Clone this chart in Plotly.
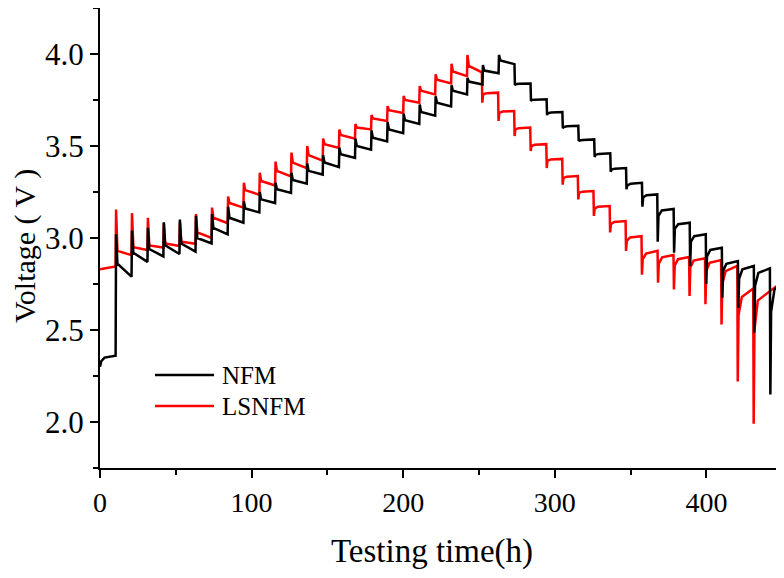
import plotly.graph_objects as go

# ---------------- data ----------------
# charge pulses (h) shared by both samples
charge_t = [10.3, 20.8, 31.3, 41.8, 52.4, 63.0, 73.6, 84.2, 94.6, 105.1, 115.5, 126.0,
            136.4, 146.9, 157.6, 168.2, 178.8, 189.4, 200.0, 210.6, 221.1, 231.6,
            242.1, 252.3, 262.9]

# NFM (black)
nfm_pre_t = [0.0, 0.8, 3.0, 10.3]
nfm_pre_v = [2.30, 2.33, 2.35, 2.36]
nfm_peak = [3.02, 3.04, 3.055, 3.085, 3.10, 3.12, 3.13, 3.17, 3.20, 3.25, 3.30, 3.355,
            3.405, 3.45, 3.49, 3.54, 3.585, 3.63, 3.675, 3.725, 3.77, 3.83, 3.87, 3.94, 3.995]
nfm_knee = [2.86, 2.92, 2.94, 2.96, 2.97, 3.00, 3.055, 3.11, 3.16, 3.21, 3.265, 3.315,
            3.365, 3.41, 3.455, 3.50, 3.545, 3.59, 3.64, 3.685, 3.735, 3.80, 3.85, 3.91, 3.965]
nfm_end = [2.79, 2.87, 2.90, 2.913, 2.926, 2.97, 3.02, 3.083, 3.139, 3.19, 3.245, 3.295,
           3.345, 3.385, 3.435, 3.48, 3.525, 3.57, 3.62, 3.665, 3.715, 3.78, 3.835, 3.895, 3.945]
nfm_dis_t = [273.4, 284.0, 294.6, 305.0, 315.5, 326.0, 336.6, 347.0, 357.5, 367.6, 378.4,
             389.0, 399.6, 410.2, 420.8, 431.3, 441.9, 450.8]
nfm_dis_trough = [3.83, 3.745, 3.668, 3.596, 3.527, 3.44, 3.36, 3.265, 3.17, 2.98, 2.92,
                  2.848, 2.75, 2.675, 2.62, 2.485, 2.15, 1.98]
nfm_dis_rec1 = [3.836, 3.75, 3.678, 3.603, 3.53, 3.452, 3.372, 3.285, 3.22, 3.12, 3.05,
                2.98, 2.90, 2.82, 2.78, 2.74, 2.60, 2.30]
nfm_dis_rec2 = [3.838, 3.752, 3.682, 3.607, 3.533, 3.457, 3.377, 3.295, 3.232, 3.15, 3.075,
                3.01, 2.935, 2.86, 2.83, 2.81, 2.72, 2.50]
nfm_dis_level = [3.84, 3.754, 3.685, 3.61, 3.536, 3.46, 3.38, 3.30, 3.237, 3.158, 3.083,
                 3.02, 2.947, 2.875, 2.848, 2.835, 2.766, 2.60]
nfm_t_end = 452.0

# LSNFM (red)
ls_pre_t = [0.0, 10.3]
ls_pre_v = [2.83, 2.845]
ls_peak = [3.155, 3.135, 3.11, 3.08, 3.085, 3.13, 3.165, 3.225, 3.30, 3.355, 3.415, 3.464,
           3.50, 3.54, 3.59, 3.62, 3.668, 3.717, 3.772, 3.826, 3.89, 3.947, 3.995]
ls_knee = [2.93, 2.95, 2.96, 2.97, 2.98, 3.03, 3.11, 3.19, 3.26, 3.31, 3.365, 3.41,
           3.45, 3.51, 3.56, 3.60, 3.65, 3.695, 3.75, 3.80, 3.86, 3.905, 3.935]
ls_end = [2.907, 2.935, 2.948, 2.957, 2.969, 3.00, 3.08, 3.165, 3.235, 3.285, 3.335, 3.38,
          3.42, 3.49, 3.54, 3.59, 3.636, 3.68, 3.735, 3.78, 3.84, 3.88, 3.90]
ls_dis_t = [251.9, 262.6, 273.2, 283.8, 294.4, 304.9, 315.2, 325.5, 336.2, 346.7, 357.2,
            367.8, 378.3, 388.6, 399.1, 409.7, 420.4, 430.9]
ls_dis_trough = [3.735, 3.636, 3.554, 3.473, 3.38, 3.29, 3.21, 3.12, 3.03, 2.93, 2.80,
                 2.757, 2.72, 2.685, 2.64, 2.53, 2.22, 1.99]
ls_dis_rec1 = [3.78, 3.68, 3.59, 3.50, 3.42, 3.325, 3.245, 3.16, 3.075, 2.985, 2.885,
               2.86, 2.85, 2.84, 2.82, 2.75, 2.58, 2.50]
ls_dis_rec2 = [3.787, 3.687, 3.597, 3.507, 3.427, 3.333, 3.252, 3.17, 3.087, 3.003, 2.915,
               2.895, 2.885, 2.877, 2.865, 2.82, 2.68, 2.66]
ls_dis_level = [3.79, 3.69, 3.60, 3.51, 3.43, 3.337, 3.255, 3.174, 3.092, 3.01, 2.93,
                2.908, 2.897, 2.89, 2.88, 2.848, 2.725, 2.77]
ls_t_end = 451.2

x_ticks = [0, 100, 200, 300, 400]
y_ticks = [2.0, 2.5, 3.0, 3.5, 4.0]
series_names = ["NFM", "LSNFM"]
series_colors = ["#000000", "#ff0000"]


def build(pre_t, pre_v, ch_t, peak, knee, end, d_t, d_tr, d_r1, d_r2, d_lv, t_end):
    xs, ys = list(pre_t), list(pre_v)
    nxt = list(ch_t[1:]) + [d_t[0]]
    for t, p, k, e, tn in zip(ch_t, peak, knee, end, nxt):
        xs += [t + 0.3, t + 1.2, tn]
        ys += [p, k, e]
    nxt = list(d_t[1:]) + [t_end]
    for t, tr, r1, r2, lv, tn in zip(d_t, d_tr, d_r1, d_r2, d_lv, nxt):
        xs += [t + 0.3, t + 0.8, t + 3.0, tn]
        ys += [tr, r1, r2, lv]
    return xs, ys


ls_x, ls_y = build(ls_pre_t, ls_pre_v, charge_t[:len(ls_peak)], ls_peak, ls_knee, ls_end,
                   ls_dis_t, ls_dis_trough, ls_dis_rec1, ls_dis_rec2, ls_dis_level, ls_t_end)
nfm_x, nfm_y = build(nfm_pre_t, nfm_pre_v, charge_t, nfm_peak, nfm_knee, nfm_end,
                     nfm_dis_t, nfm_dis_trough, nfm_dis_rec1, nfm_dis_rec2, nfm_dis_level, nfm_t_end)

FONT = "Liberation Serif, Times New Roman, serif"

# page body has an 8px offset; plot area is placed so it lands at x 100..784, y 8..468
L, T, PW, PH = 92, 0, 684, 460
OFF = 8


def px(X):
    return (X - OFF - L) / PW


def py(Y):
    return 1 - (Y - OFF - T) / PH


fig = go.Figure()
fig.add_trace(go.Scatter(x=ls_x, y=ls_y, mode="lines", name=series_names[1],
                         line=dict(color=series_colors[1], width=2.5), showlegend=False))
fig.add_trace(go.Scatter(x=nfm_x, y=nfm_y, mode="lines", name=series_names[0],
                         line=dict(color=series_colors[0], width=2.5), showlegend=False))

axis_common = dict(showline=True, linecolor="black", linewidth=2, ticks="outside",
                   ticklen=8, tickwidth=2, tickcolor="black", showgrid=False,
                   zeroline=False, mirror=False)

# hand-drawn legend (long sample lines, as in the original)
shapes, annotations = [], []
for i, (nm, col) in enumerate(zip(series_names, series_colors)):
    yy = 375 + i * 31
    shapes.append(dict(type="line", xref="paper", yref="paper",
                       x0=px(155), x1=px(214), y0=py(yy), y1=py(yy),
                       line=dict(color=col, width=2.5)))
    annotations.append(dict(text=nm, xref="paper", yref="paper", x=px(220), y=py(yy),
                            xanchor="left", yanchor="middle", showarrow=False,
                            font=dict(family=FONT, size=25, color="black")))

annotations += [
    dict(text="Voltage ( V )", textangle=-90, xref="paper", yref="paper",
         x=px(25), y=py(246), xanchor="center", yanchor="middle",
         showarrow=False, font=dict(family=FONT, size=30, color="black")),
    dict(text="Testing time(h)", xref="paper", yref="paper",
         x=px(432), y=py(551), xanchor="center", yanchor="middle",
         showarrow=False, font=dict(family=FONT, size=33, color="black")),
]

fig.update_layout(
    width=784, height=578,
    margin=dict(l=L, r=784 - L - PW, t=T, b=578 - T - PH),
    paper_bgcolor="white", plot_bgcolor="white",
    showlegend=False,
    shapes=shapes,
    annotations=annotations,
    xaxis=dict(range=[0, 451.2], tickmode="array", tickvals=x_ticks,
               ticktext=[str(v) for v in x_ticks],
               tickfont=dict(family=FONT, size=28, color="black"),
               minor=dict(dtick=50, tick0=0, ticks="outside", ticklen=5,
                          tickwidth=2, tickcolor="black"),
               **axis_common),
    yaxis=dict(range=[1.75, 4.25], tickmode="array", tickvals=y_ticks,
               ticktext=[f"{v:.1f}" for v in y_ticks],
               tickfont=dict(family=FONT, size=31, color="black"),
               minor=dict(dtick=0.25, tick0=1.75, ticks="outside", ticklen=5,
                          tickwidth=2, tickcolor="black"),
               **axis_common),
)

fig.write_html("out.html")
